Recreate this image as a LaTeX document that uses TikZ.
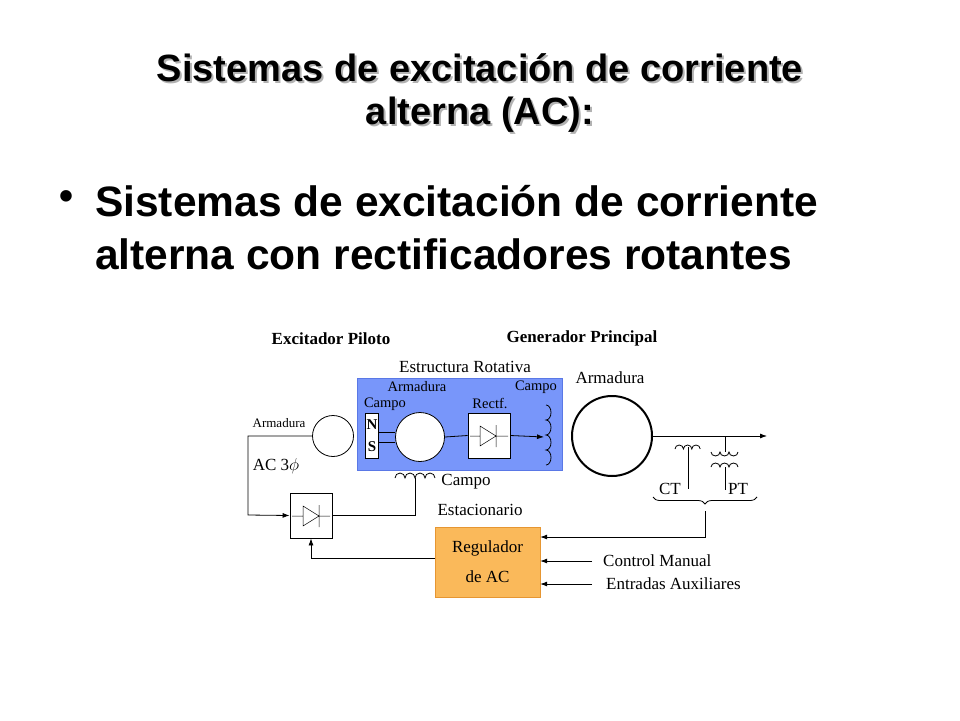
\documentclass[tikz,border=0pt]{standalone}
\usepackage{fontspec}
\setmainfont{Liberation Serif}
\newfontfamily\hd{Liberation Sans}
\usetikzlibrary{decorations.pathreplacing,arrows.meta}
\begin{document}
\begin{tikzpicture}[x=1pt,y=-1pt,
 lbl/.style={inner sep=0pt,font=\fontsize{17}{17}\selectfont},
 sl/.style={inner sep=0pt,font=\fontsize{14.5}{14.5}\selectfont},
 bl/.style={inner sep=0pt,font=\fontsize{17}{17}\selectfont\bfseries},
 ln/.style={line width=0.8pt},
 arr/.style={ln,-{Latex[length=7pt,width=5pt]}},
 box/.style={draw,ln,fill=white}]
\useasboundingbox (0,0) rectangle (960,720);
\fill[white] (0,0) rectangle (960,720);
% titles
\foreach \t/\y in {{Sistemas de excitación de corriente}/68,{alterna (AC):}/115}{
 \node[text=gray!60,inner sep=0pt,font=\hd\bfseries\fontsize{38}{38}\selectfont] at (482,\y+2) {\t};
 \node[inner sep=0pt,font=\hd\bfseries\fontsize{38}{38}\selectfont] (t\y) at (480,\y) {\t};}
\node[font=\hd\bfseries\fontsize{40}{40}\selectfont] (bul) at (67,200) {•};
\node[anchor=west,font=\hd\bfseries\fontsize{42.5}{42.5}\selectfont,inner sep=0pt] (b1) at (95,201) {Sistemas de excitación de corriente};
\node[anchor=west,font=\hd\bfseries\fontsize{42.5}{42.5}\selectfont,inner sep=0pt] (b2) at (95,254) {alterna con rectificadores rotantes};
% diagram
\node[bl] (ep) at (331,339) {Excitador Piloto};
\node[bl] (gp) at (582,338) {Generador Principal};
\node[lbl] (er) at (465,367) {Estructura Rotativa};
\fill[fill={rgb,255:red,120;green,150;blue,250},draw={rgb,255:red,90;green,120;blue,230}] (357,378) rectangle (562,470);
\node[sl] (arm1) at (417,387) {Armadura};
\node[sl] (cam1) at (385,404) {Campo};
\node[sl] (cam2) at (536,387) {Campo};
\node[sl] (rec) at (490,403) {Rectf.};
% NS
\node[box,minimum width=13pt,minimum height=45pt,inner sep=0pt] (ns) at (371.5,435.5) {};
\node[bl,font=\fontsize{15}{15}\selectfont\bfseries] at (372,425) {N};
\node[bl,font=\fontsize{15}{15}\selectfont\bfseries] at (372,447) {S};
\node[draw,ln,fill=white,circle,minimum size=49pt,inner sep=0pt] (ra) at (420,437) {};
\draw[ln] (ns.east|-0,432) -- (ra.west|-0,432);
\draw[ln] (ns.east|-0,442) -- (ra.west|-0,442);
\node[box,minimum width=42pt,minimum height=45pt,inner sep=0pt] (rb) at (489,435.5) {};
\coordinate (fc) at (544,437);
\draw[ln] (ra.east) -- (rb.west);
\draw[arr] (rb.east) -- (fc);
\draw[line width=0.5pt] (480,426) -- (480,446) -- (496,436) -- cycle (496,425) -- (496,447) (470,436)--(480,436) (496,436)--(508,436);
% rotating field coil
\draw[ln] (546,405) \foreach \i in {0,1,2,3}{ arc(-90:90:5 and 7.5)} ;
% pilot circle
\node[draw,ln,circle,minimum size=41pt,inner sep=0pt] (pc) at (333,436) {};
\node[sl,font=\fontsize{13}{13}\selectfont] (arm0) at (279,423) {Armadura};
\node[lbl] (ac) at (276,466) {AC 3$\phi$};
% lower diode box
\node[box,minimum width=42pt,minimum height=45pt,inner sep=0pt] (db) at (311,515.5) {};
\draw[line width=0.5pt] (303,506) -- (303,526) -- (319,516) -- cycle (319,505) -- (319,527) (292,516)--(303,516) (319,516)--(330,516);
\draw[arr] (pc.west) -| (248,515) -- (db.west);
\coordinate (sc) at (415,478);
\draw[ln] (db.east) -| (sc);
\draw[ln] (395,478) \foreach \i in {0,1,2,3}{ arc(180:360:5 and 5)} ;
\node[lbl] (c2) at (466,482) {Campo};
\node[lbl] (est) at (480,510) {Estacionario};
% regulator
\node[draw={rgb,255:red,230;green,150;blue,50},fill={rgb,255:red,250;green,185;blue,90},minimum width=105pt,minimum height=70pt,inner sep=0pt,align=center,font=\fontsize{17}{30}\selectfont] (reg) at (487.5,562) {Regulador\\de AC};
\draw[arr] (reg.west|-0,558) -| (db.south);
% main armature
\node[draw,line width=2pt,circle,minimum size=80pt,inner sep=0pt] (ma) at (612,436) {};
\node[lbl] (arm2) at (610,378) {Armadura};
\coordinate (out) at (767,436);
\draw[arr] (ma.east) -- (out);
% CT
\draw[ln] (675,449) \foreach \i in {0,1,2}{ arc(180:360:4.2 and 4)} ;
\draw[ln] (688,447) -- (688,489);
\node[lbl] (ct) at (670,489) {CT};
% PT
\draw[ln] (725,436) -- (725,452);
\draw[ln] (711,452) \foreach \i in {0,1,2}{ arc(180:0:4.5 and 4)} ;
\draw[ln] (711,467) \foreach \i in {0,1,2}{ arc(180:360:4.5 and 4)} ;
\draw[ln] (725,467) -- (725,490);
\node[lbl] (pt) at (738,489) {PT};
\draw[ln,decorate,decoration={brace,mirror,amplitude=7pt}] (653,497) -- (757,497);
\coordinate (bt) at (705,511);
\draw[arr] (bt) -- (705,537) -- (reg.east|-0,537);
\draw[arr] (592,561) -- (reg.east|-0,561);
\draw[arr] (592,584) -- (reg.east|-0,584);
\node[lbl,anchor=west] (cm) at (603,561) {Control Manual};
\node[lbl,anchor=west] (ea) at (606,584) {Entradas Auxiliares};
\end{tikzpicture}
\end{document}
